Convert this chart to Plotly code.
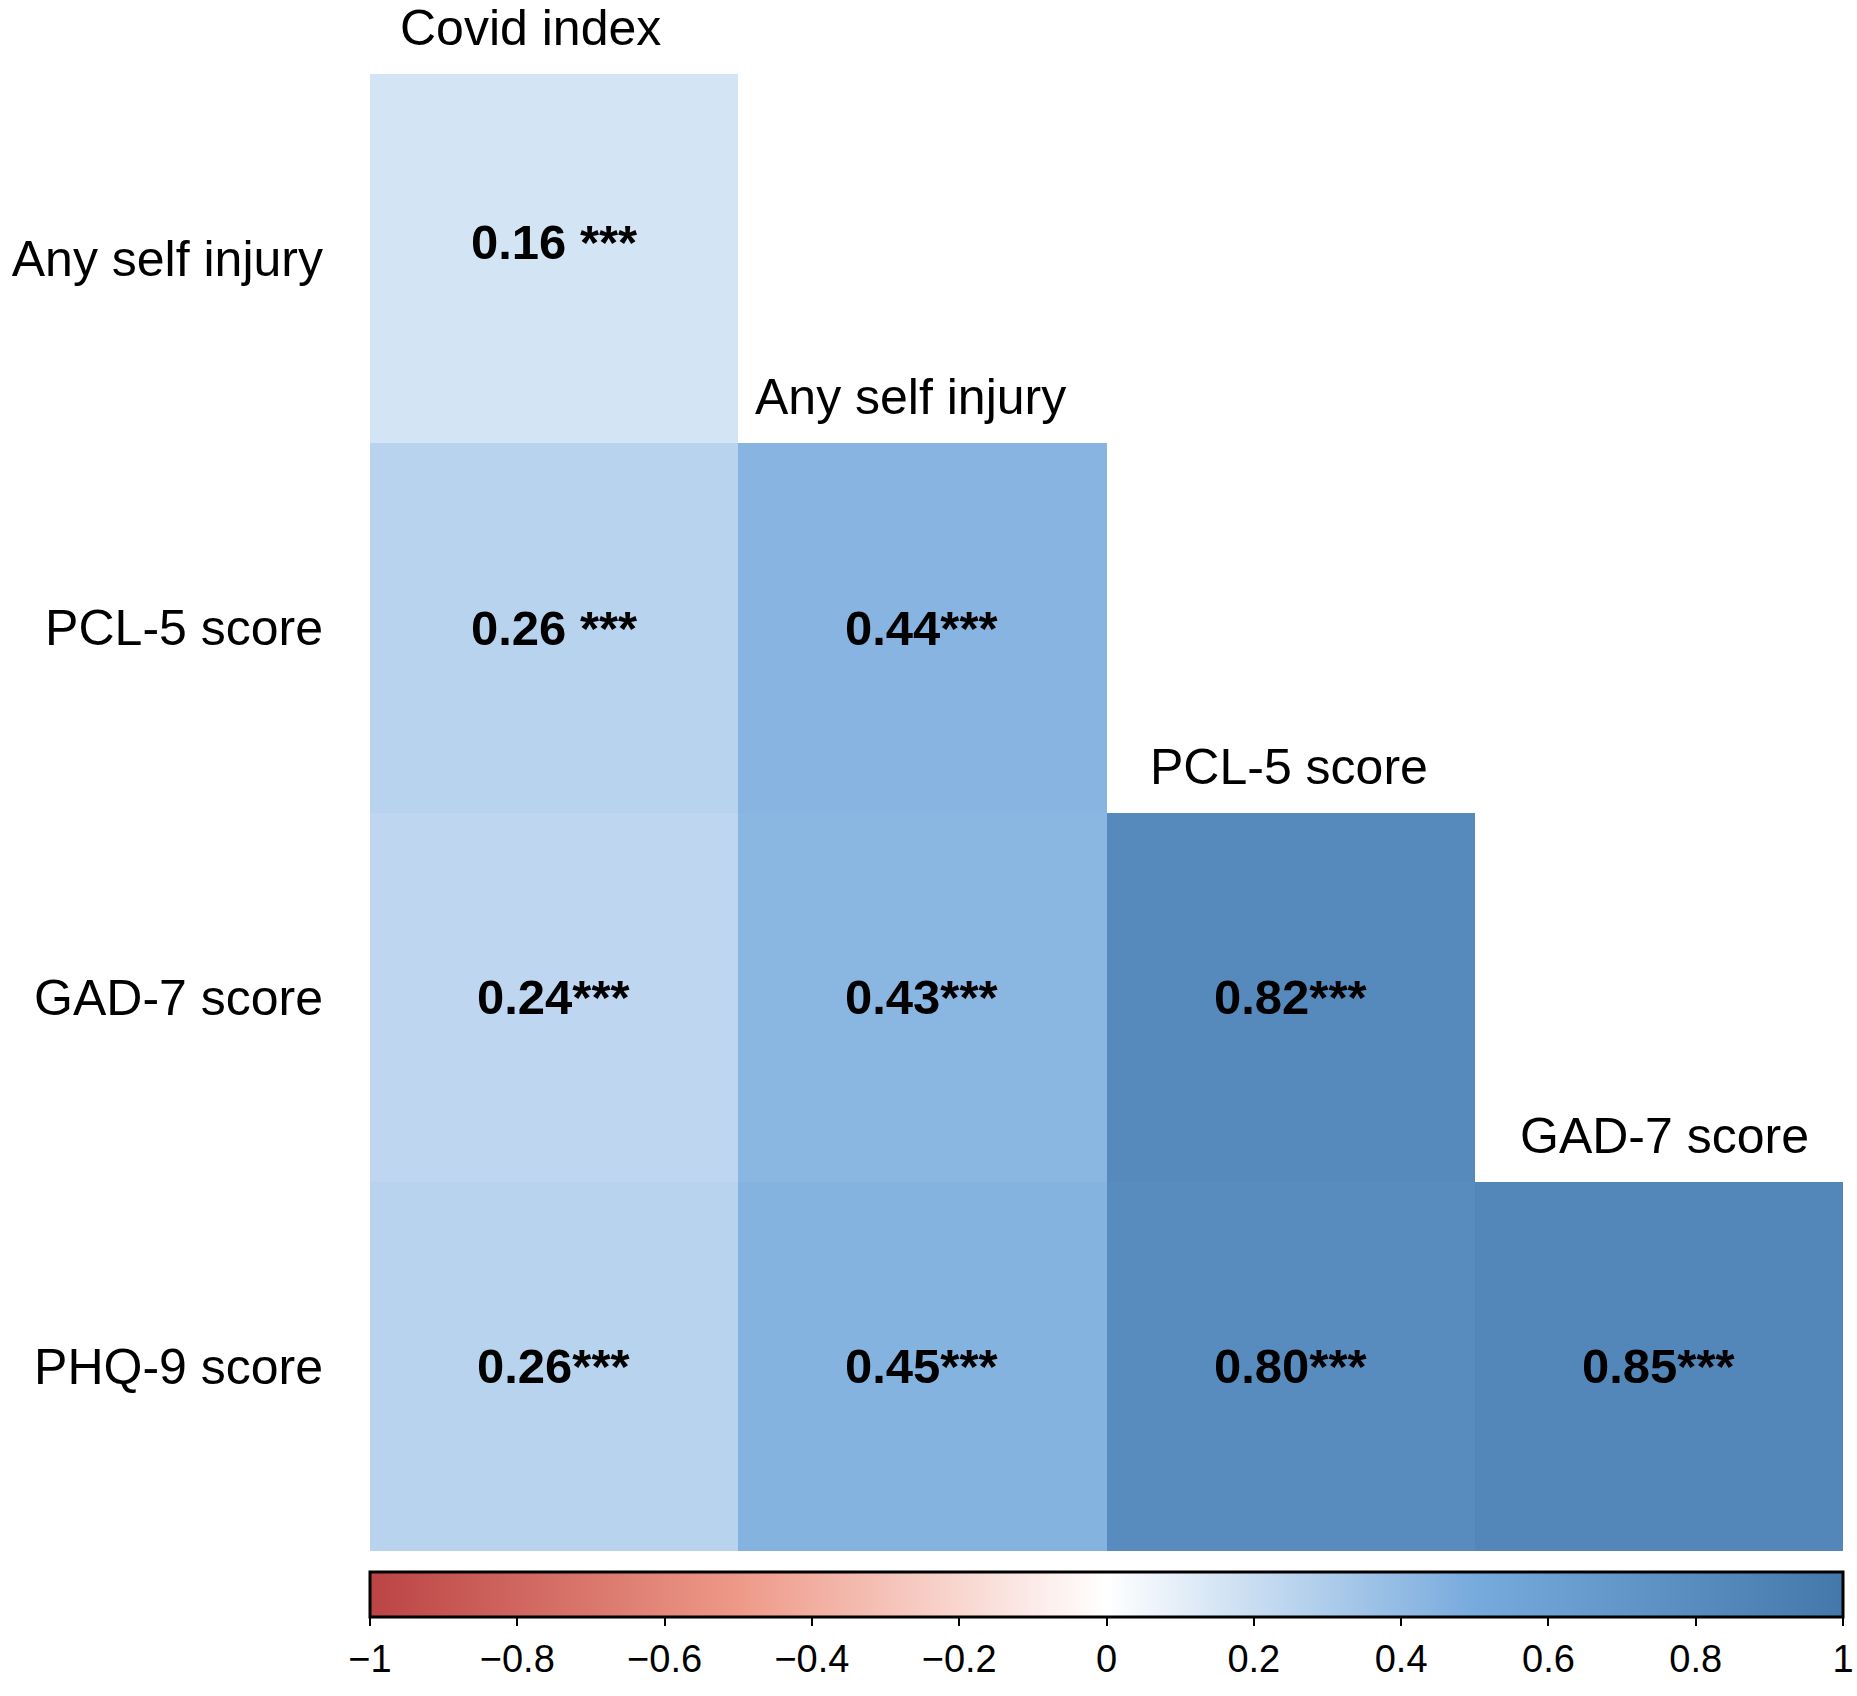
import plotly.graph_objects as go

# correlation matrix, lower triangle only (None = blank cell)
columns = ["Covid index", "Any self injury", "PCL-5 score", "GAD-7 score"]
rows = ["Any self injury", "PCL-5 score", "GAD-7 score", "PHQ-9 score"]

r_any_self_injury = [0.16, None, None, None]
r_pcl5 = [0.26, 0.44, None, None]
r_gad7 = [0.24, 0.43, 0.82, None]
r_phq9 = [0.26, 0.45, 0.80, 0.85]

lab_any_self_injury = ["0.16 ***", "", "", ""]
lab_pcl5 = ["0.26 ***", "0.44***", "", ""]
lab_gad7 = ["0.24***", "0.43***", "0.82***", ""]
lab_phq9 = ["0.26***", "0.45***", "0.80***", "0.85***"]

cb_tickvals = [-1, -0.8, -0.6, -0.4, -0.2, 0, 0.2, 0.4, 0.6, 0.8, 1]
cb_ticktext = ["\u22121", "\u22120.8", "\u22120.6", "\u22120.4", "\u22120.2",
               "0", "0.2", "0.4", "0.6", "0.8", "1"]

z = [r_any_self_injury, r_pcl5, r_gad7, r_phq9]
labels = [lab_any_self_injury, lab_pcl5, lab_gad7, lab_phq9]

# corrplot style palette
cscale = [[0.0, "#BB4444"], [0.25, "#EE9988"], [0.5, "#FFFFFF"],
          [0.75, "#77AADD"], [1.0, "#4477AA"]]

W, H = 1857, 1696
ml, mr, mt, mb = 366, 14, 74, 145
plot_h = H - mt - mb

# the column headers in the original are not exactly centred
col_label_xshift = [-24, -12, -2, 6]

fig = go.Figure()
fig.add_trace(go.Heatmap(
    z=z, x=columns, y=rows,
    zmin=-1, zmax=1, colorscale=cscale,
    xgap=0, ygap=0, hoverongaps=False,
    colorbar=dict(
        orientation="h",
        x=0.5, xanchor="center", len=1, lenmode="fraction", xpad=0,
        y=-21 / plot_h, yanchor="top", ypad=0,
        thickness=45,
        outlinewidth=3, outlinecolor="black",
        ticks="outside", ticklen=8, tickwidth=2, tickcolor="black",
        # nudge the top tick a hair inside the range so it is not dropped
        tickvals=[v - 1e-9 if v == 1 else v for v in cb_tickvals],
        ticktext=cb_ticktext,
        ticklabeloverflow="allow",
        tickfont=dict(family="Liberation Sans, Arial", size=38, color="black"),
    ),
))

anns = []
for i, row in enumerate(rows):
    for j, col in enumerate(columns):
        if z[i][j] is None:
            continue
        anns.append(dict(
            x=col, y=row, text="<b>" + labels[i][j] + "</b>",
            showarrow=False, xref="x", yref="y",
            yshift=17 if i == 0 else 0,
            font=dict(family="Liberation Sans, Arial", size=49, color="black"),
        ))

# column names sit above the top cell of each column
for j, col in enumerate(columns):
    anns.append(dict(
        x=j, y=j - 0.5, text=col, showarrow=False,
        xref="x", yref="y", yanchor="bottom", yshift=16,
        xshift=col_label_xshift[j],
        font=dict(family="Liberation Sans, Arial", size=50, color="black"),
    ))

fig.update_layout(
    width=W, height=H,
    margin=dict(l=ml, r=mr, t=mt, b=mb),
    paper_bgcolor="white", plot_bgcolor="white",
    annotations=anns,
    xaxis=dict(showticklabels=False, showgrid=False, zeroline=False,
               showline=False, ticks="", range=[-0.5, 3.5]),
    yaxis=dict(autorange=False, range=[3.5, -0.5], showgrid=False,
               zeroline=False, showline=False, ticks="",
               ticklabelstandoff=46,
               tickfont=dict(family="Liberation Sans, Arial", size=50, color="black")),
)

# drop the default page margin so the figure fills the window exactly
fig.write_html("out.html",
               config={"displayModeBar": False},
               post_script="document.body.style.margin='0';"
                           "document.body.style.overflow='hidden';")
